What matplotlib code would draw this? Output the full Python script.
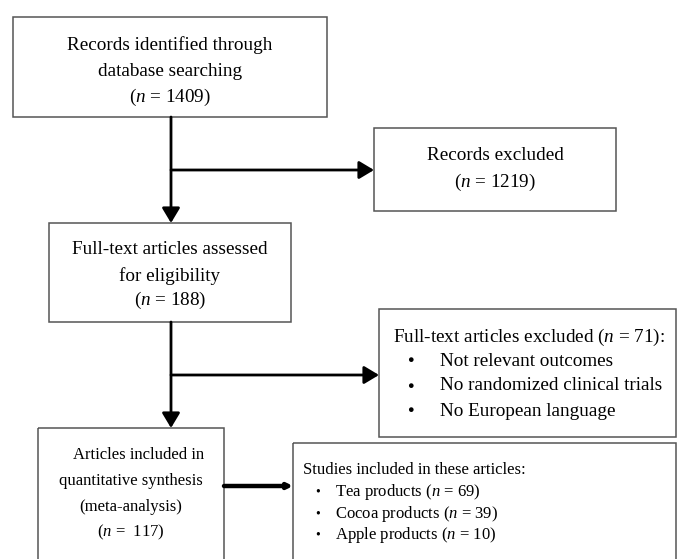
import matplotlib.pyplot as plt
from matplotlib.patches import Rectangle

plt.rcParams['font.family'] = 'Liberation Serif'
plt.rcParams['mathtext.fontset'] = 'custom'
plt.rcParams['mathtext.rm'] = 'Liberation Serif'
plt.rcParams['mathtext.it'] = 'Liberation Serif:italic'

# counts of the flow
n_identified = 1409
n_excluded = 1219
n_assessed = 188
n_fulltext_excluded = 71
n_included = 117

reasons = ["Not relevant outcomes", "No randomized clinical trials", "No European language"]
products = ["Tea products", "Cocoa products", "Apple products"]
product_counts = [69, 39, 10]


def nlab(n):
    return r"($\it{n}$ = %d)" % n


fig = plt.figure(figsize=(6.78, 5.59), dpi=100)
ax = fig.add_axes([0, 0, 1, 1])
ax.set_xlim(0, 678)
ax.set_ylim(559, 0)
ax.axis("off")

box_kw = dict(fill=False, edgecolor="#555555", lw=1.1)
fs = 13.8
fs_low = 12.0  # the two bottom boxes use a narrower setting

# boxes (x, y, w, h)
ax.add_patch(Rectangle((13, 17), 314, 100, **box_kw))
ax.add_patch(Rectangle((374, 128), 242, 83, **box_kw))
ax.add_patch(Rectangle((49, 223), 242, 99, **box_kw))
ax.add_patch(Rectangle((379, 309), 297, 128, **box_kw))
ax.add_patch(Rectangle((38, 428), 186, 140, **box_kw))
ax.add_patch(Rectangle((293, 443), 383, 130, **box_kw))

# connectors
arr = dict(arrowstyle="-|>,head_length=0.5,head_width=0.3", color="black", lw=2,
           mutation_scale=18, shrinkA=0, shrinkB=0)
ax.annotate("", xy=(171, 223), xytext=(171, 117), arrowprops=arr)
ax.annotate("", xy=(374, 170), xytext=(171, 170), arrowprops=arr)
ax.annotate("", xy=(171, 428), xytext=(171, 322), arrowprops=arr)
ax.annotate("", xy=(379, 375), xytext=(171, 375), arrowprops=arr)
arr2 = dict(arrowstyle="-|>", color="black", lw=3.2, mutation_scale=7, shrinkA=0, shrinkB=0)
ax.annotate("", xy=(293, 486), xytext=(224, 486), arrowprops=arr2)

# box texts
ax.text(170, 45, "Records identified through", ha="center", va="center", fontsize=fs)
ax.text(170, 71, "database searching", ha="center", va="center", fontsize=fs)
ax.text(170, 97, nlab(n_identified), ha="center", va="center", fontsize=fs)

ax.text(495, 155, "Records excluded", ha="center", va="center", fontsize=fs)
ax.text(495, 182, nlab(n_excluded), ha="center", va="center", fontsize=fs)

ax.text(170, 250, "Full-text articles assessed", ha="center", va="center", fontsize=fs)
ax.text(170, 276, "for eligibility", ha="center", va="center", fontsize=fs)
ax.text(170, 300, nlab(n_assessed), ha="center", va="center", fontsize=fs)

ax.text(393, 337, "Full-text articles excluded " + nlab(n_fulltext_excluded) + ":",
        ha="left", va="center", fontsize=fs)
for i, r in enumerate(reasons):
    y = 361 + i * 25
    ax.text(410, y, "\u25cf", ha="center", va="center", fontsize=fs - 6)
    ax.text(440, y, r, ha="left", va="center", fontsize=fs)

ax.text(139, 455, "Articles included in", ha="center", va="center", fontsize=fs_low)
ax.text(131, 481, "quantitative synthesis", ha="center", va="center", fontsize=fs_low)
ax.text(131, 507, "(meta-analysis)", ha="center", va="center", fontsize=fs_low)
ax.text(131, 532, r"($\it{n}$ =  %d)" % n_included, ha="center", va="center", fontsize=fs_low)

ax.text(303, 470, "Studies included in these articles:", ha="left", va="center", fontsize=fs_low)
for i, (p, c) in enumerate(zip(products, product_counts)):
    y = 492 + i * 21.5
    ax.text(318, y, "\u2022", ha="center", va="center", fontsize=fs_low - 2)
    ax.text(335, y, p + " " + nlab(c), ha="left", va="center", fontsize=fs_low)

fig.savefig("out.png", dpi=100)
